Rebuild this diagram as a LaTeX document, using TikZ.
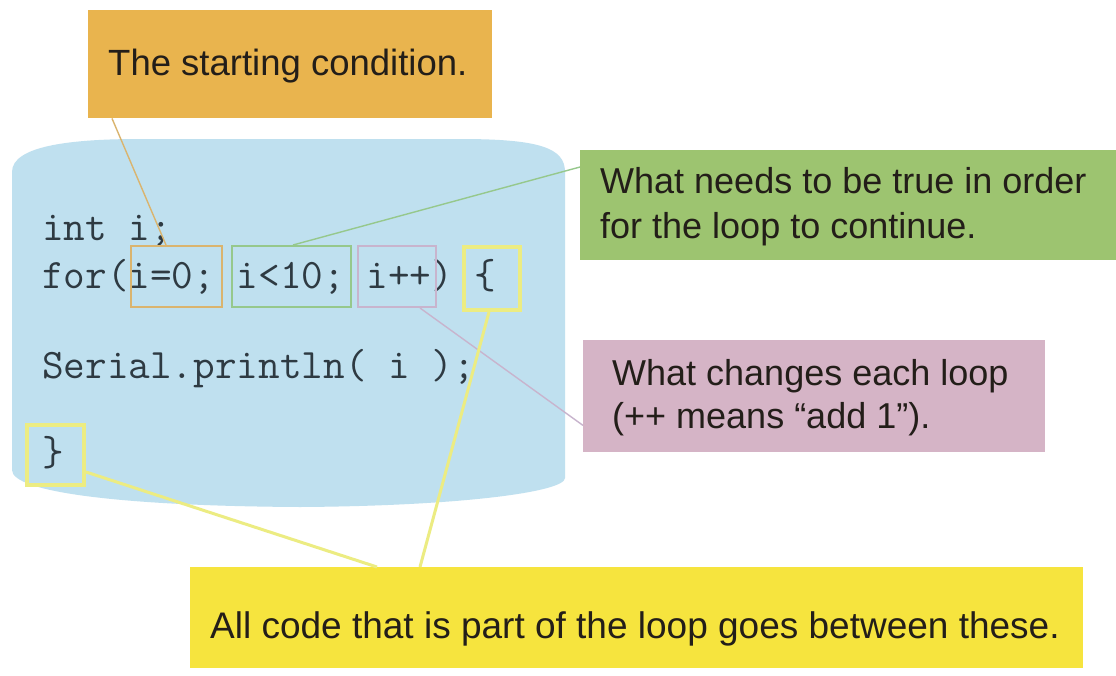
\documentclass[tikz,border=0pt]{standalone}
\usepackage{fontspec}
\setmainfont{Liberation Sans}
\usetikzlibrary{calc}
\definecolor{bluebg}{RGB}{191,224,239}
\definecolor{orangebox}{RGB}{233,180,78}
\definecolor{greenbox}{RGB}{157,196,112}
\definecolor{pinkbox}{RGB}{213,180,198}
\definecolor{yellowbox}{RGB}{246,228,62}
\definecolor{textdark}{RGB}{35,30,25}
\definecolor{codetext}{RGB}{46,58,66}
\definecolor{orangeline}{RGB}{218,180,110}
\definecolor{greenline}{RGB}{150,200,140}
\definecolor{pinkline}{RGB}{200,180,205}
\definecolor{yellowline}{RGB}{236,236,130}
\begin{document}
\begin{tikzpicture}[x=1pt,y=-1pt,
  box/.style={rectangle, inner sep=0pt, anchor=north west},
  txt/.style={inner sep=0pt, anchor=base west, text=textdark, font=\fontsize{36}{43}\selectfont},
  code/.style={inner sep=0pt, anchor=base west, text=codetext, font=\ttfamily\fontsize{42}{46}\selectfont},
  hl/.style={rectangle, inner sep=0pt, anchor=north west, line width=2pt},
  conn/.style={line width=1.4pt}
]
\useasboundingbox (0,0) rectangle (1116,675);
\fill[white] (0,0) rectangle (1116,675);
% code background
\fill[bluebg] (12,172) .. controls (12,146) and (70,139) .. (140,139) -- (460,139)
  .. controls (540,139) and (565,148) .. (565,172) -- (565,478)
  .. controls (565,492) and (460,506) .. (300,507)
  .. controls (120,506) and (12,492) .. (12,470) -- cycle;

% callout boxes
\node[box, fill=orangebox, minimum width=404pt, minimum height=108pt] (start) at (88,10) {};
\node[box, fill=greenbox, minimum width=536pt, minimum height=110pt] (cond) at (580,150) {};
\node[box, fill=pinkbox, minimum width=462pt, minimum height=112pt] (incr) at (583,340) {};
\node[box, fill=yellowbox, minimum width=893pt, minimum height=101pt] (body) at (190,567) {};

% callout texts
\node[txt, font=\fontsize{36.5}{43}\selectfont] (starttxt) at (108,75) {The starting condition.};
\node[txt] (condtxt1) at (600,193) {What needs to be true in order};
\node[txt] (condtxt2) at (600,238) {for the loop to continue.};
\node[txt] (incrtxt1) at (612,385) {What changes each loop};
\node[txt] (incrtxt2) at (612,428) {(++ means “add 1”).};
\node[txt, font=\fontsize{37}{43}\selectfont] (bodytxt) at (210,638) {All code that is part of the loop goes between these.};

% code
\node[code] (c1) at (42,240) {int i;};
\node[code] (c2) at (42,288) {for(i=0; i<10; i++) \{};
\node[code] (c3) at (42,378) {Serial.println( i );};
\node[code] (c4) at (42,465) {\}};

% highlight boxes
\node[hl, draw=orangeline, minimum width=91pt, minimum height=61pt] (hinit) at (130,245) {};
\node[hl, draw=greenline, minimum width=119pt, minimum height=61pt] (hcond) at (231,245) {};
\node[hl, draw=pinkline, minimum width=78pt, minimum height=61pt] (hincr) at (357,245) {};
\node[hl, draw=yellowline, line width=4pt, minimum width=56pt, minimum height=63pt] (hopen) at (462,245) {};
\node[hl, draw=yellowline, line width=4pt, minimum width=57pt, minimum height=60pt] (hclose) at (25,423) {};

% connectors
\draw[conn, orangeline] ([xshift=24pt]start.south west) -- ([xshift=36pt]hinit.north west);
\draw[conn, greenline] ([yshift=-17pt]cond.north west) -- ([xshift=62pt]hcond.north west);
\draw[conn, pinkline] ([xshift=63pt]hincr.south west) -- ([yshift=27pt]incr.south west);
\draw[conn, yellowline, line width=3pt] ([xshift=-3pt]hopen.south) -- ([xshift=230pt]body.north west);
\draw[conn, yellowline, line width=3pt] ([yshift=-17pt]hclose.east) -- ([xshift=187pt]body.north west);
\end{tikzpicture}
\end{document}
